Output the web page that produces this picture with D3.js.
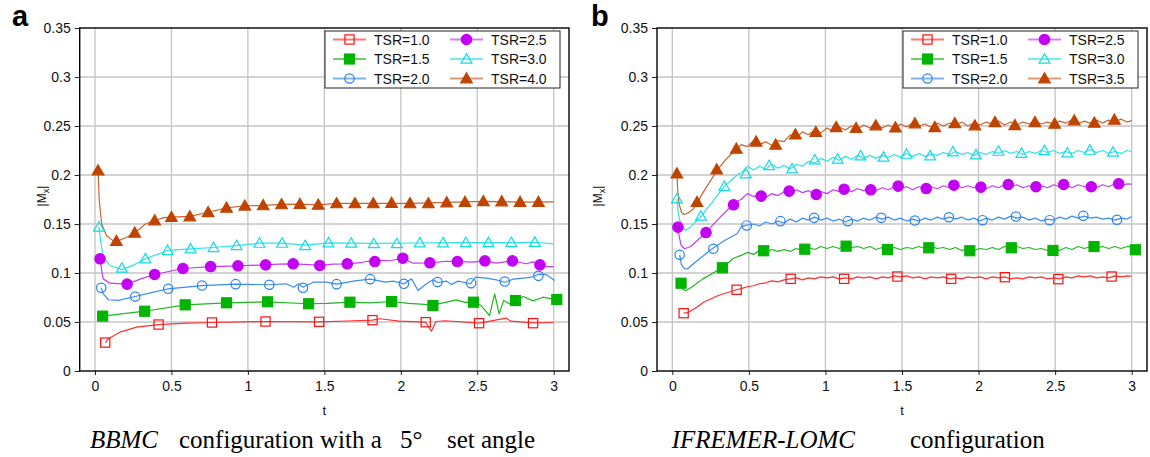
<!DOCTYPE html>
<html><head><meta charset="utf-8">
<script src="https://cdn.jsdelivr.net/npm/d3@7"></script>
<style>
html,body{margin:0;padding:0;background:#fff;}
svg{display:block;}
text{font-family:"Liberation Sans",Arial,sans-serif;}
text.caption{font-family:"Liberation Serif","Times New Roman",serif;}
</style></head>
<body>
<svg id="chart" width="1150" height="457"></svg>
<script>
// ---------------- DATA ----------------
const xTicks = [0, 0.5, 1, 1.5, 2, 2.5, 3];
const xTickLabels = ["0", "0.5", "1", "1.5", "2", "2.5", "3"];
const yTicks = [0, 0.05, 0.1, 0.15, 0.2, 0.25, 0.3, 0.35];
const yTickLabels = ["0", "0.05", "0.1", "0.15", "0.2", "0.25", "0.3", "0.35"];

const legendA = ["TSR=1.0", "TSR=1.5", "TSR=2.0", "TSR=2.5", "TSR=3.0", "TSR=4.0"];
const legendB = ["TSR=1.0", "TSR=1.5", "TSR=2.0", "TSR=2.5", "TSR=3.0", "TSR=3.5"];

// Panel a (BBMC) : markers
const aMk10T = [0.067,0.416,0.765,1.115,1.466,1.815,2.163,2.512,2.865];
const aMk10V = [.029,.0474,.0495,.0505,.0502,.0519,.0498,.0488,.0488];
const aMk15T = [0.05,0.325,0.59,0.86,1.129,1.397,1.667,1.94,2.21,2.475,2.75,3.02];
const aMk15V = [.056,.061,.0675,.0696,.0706,.0686,.0702,.0709,.0668,.0702,.0719,.073];
const aMk20T = [0.041,0.263,0.479,0.70,0.92,1.14,1.36,1.58,1.80,2.02,2.24,2.46,2.68,2.90];
const aMk20V = [.0849,.076,.0839,.0872,.0886,.088,.0849,.0886,.0937,.089,.0908,.0896,.0913,.0971];
const aMk25T = [0.033,0.21,0.39,0.575,0.756,0.935,1.116,1.296,1.47,1.65,1.83,2.013,2.19,2.37,2.55,2.73,2.91];
const aMk25V = [.1145,.0886,.0985,.1046,.1066,.1073,.1083,.1094,.1077,.1094,.1117,.1151,.1104,.1117,.1124,.1124,.1083];
const aMk30T = [0.026,0.176,0.33,0.475,0.625,0.775,0.926,1.076,1.224,1.375,1.527,1.676,1.823,1.974,2.124,2.277,2.425,2.573,2.723,2.876];
const aMk30V = [.1468,.105,.1145,.123,.1247,.126,.128,.1304,.1304,.128,.1308,.1305,.130,.130,.1308,.1308,.131,.131,.131,.1314];
const aMk40T = [0.02,0.14,0.26,0.39,0.50,0.62,0.74,0.86,0.98,1.10,1.22,1.34,1.46,1.58,1.70,1.82,1.94,2.06,2.18,2.30,2.42,2.54,2.66,2.78,2.90];
const aMk40V = [.2046,.1325,.141,.1536,.157,.1577,.162,.1665,.1686,.169,.170,.1703,.1696,.171,.171,.171,.1714,.171,.171,.172,.1724,.1731,.173,.1724,.1724];

// Panel a : lines [t, value]
const aLn10 = [[0.067,.029],[0.087,.0329],[0.163,.0396],[0.272,.0447],[0.416,.0474],[0.6,.0488],[0.765,.0495],[1.115,.0505],[1.466,.0502],[1.65,.051],[1.815,.0519],[1.863,.0533],[1.99,.0508],[2.163,.0498],[2.20,.0406],[2.23,.0505],[2.29,.0513],[2.512,.0488],[2.69,.0539],[2.72,.0508],[2.865,.0492],[3.0,.0495]];
const aLn15 = [[0.05,.056],[0.325,.061],[0.59,.0675],[0.86,.0696],[1.129,.0706],[1.397,.0686],[1.52,.069],[1.667,.0702],[1.80,.0695],[1.94,.0709],[2.05,.069],[2.21,.0675],[2.30,.0702],[2.363,.0726],[2.42,.070],[2.48,.0702],[2.525,.0668],[2.58,.0566],[2.614,.0788],[2.643,.0583],[2.673,.072],[2.71,.0686],[2.745,.071],[2.80,.076],[2.865,.0716],[2.93,.0753],[3.02,.0726]];
const aLn20 = [[0.041,.0849],[0.054,.0788],[0.087,.0727],[0.153,.072],[0.263,.076],[0.37,.080],[0.479,.0839],[0.70,.0872],[0.92,.0886],[1.14,.088],[1.25,.089],[1.30,.0855],[1.33,.089],[1.36,.0855],[1.427,.0906],[1.514,.0906],[1.58,.0886],[1.70,.092],[1.80,.0937],[1.90,.0906],[1.95,.0917],[2.02,.089],[2.07,.094],[2.113,.0821],[2.168,.089],[2.21,.093],[2.244,.0903],[2.30,.0917],[2.33,.0883],[2.375,.0917],[2.455,.089],[2.49,.0957],[2.56,.0947],[2.625,.093],[2.68,.0906],[2.735,.0937],[2.80,.0947],[2.853,.0957],[2.90,.0985],[2.95,.0985],[3.007,.0923]];
const aLn25 = [[0.033,.1145],[0.044,.1026],[0.054,.094],[0.098,.0896],[0.21,.0886],[0.3,.094],[0.39,.0985],[0.575,.1046],[0.756,.1066],[0.935,.1073],[1.116,.1083],[1.2,.109],[1.296,.1094],[1.40,.1085],[1.47,.1077],[1.56,.109],[1.65,.1094],[1.74,.1105],[1.78,.112],[1.83,.1117],[1.863,.1128],[1.93,.1125],[2.013,.1151],[2.08,.110],[2.19,.1104],[2.30,.112],[2.37,.1117],[2.47,.111],[2.55,.1124],[2.625,.110],[2.73,.1124],[2.82,.1094],[2.865,.1114],[2.91,.1083],[2.95,.1066],[3.0,.1066]];
const aLn30 = [[0.026,.1468],[0.037,.133],[0.054,.116],[0.098,.1077],[0.176,.1035],[0.25,.108],[0.33,.1145],[0.475,.123],[0.625,.1247],[0.775,.126],[0.926,.128],[1.076,.1304],[1.224,.1304],[1.375,.1285],[1.527,.1308],[1.8,.1303],[2.1,.1306],[2.4,.131],[2.7,.131],[2.876,.1314],[3.0,.1298]];
const aLn40 = [[0.02,.2046],[0.028,.174],[0.044,.150],[0.076,.138],[0.13,.1315],[0.207,.1365],[0.26,.141],[0.33,.150],[0.39,.1536],[0.45,.1565],[0.50,.157],[0.62,.1577],[0.74,.162],[0.86,.1665],[0.98,.1686],[1.10,.169],[1.22,.170],[1.34,.1703],[1.46,.1696],[1.58,.171],[1.82,.171],[2.06,.171],[2.30,.172],[2.54,.1731],[2.78,.1724],[3.0,.1725]];

// Panel b (IFREMER-LOMC) : markers
const bMk10T = [0.074,0.42,0.773,1.122,1.47,1.821,2.172,2.521,2.869];
const bMk10V = [.059,.0829,.094,.094,.0964,.094,.0957,.0937,.0964];
const bMk15T = [0.057,0.327,0.597,0.865,1.135,1.405,1.675,1.943,2.214,2.486,2.754,3.024];
const bMk15V = [.0896,.1053,.1227,.1243,.1274,.124,.1257,.1227,.1257,.123,.127,.1237];
const bMk20T = [0.048,0.268,0.486,0.706,0.926,1.146,1.364,1.584,1.806,2.026,2.244,2.464,2.684,2.904];
const bMk20V = [.1186,.1247,.1485,.1529,.1563,.1529,.1563,.1535,.1569,.1539,.1576,.1539,.1583,.1543];
const bMk25T = [0.037,0.22,0.40,0.58,0.763,0.94,1.122,1.296,1.475,1.658,1.839,2.015,2.194,2.375,2.556,2.736,2.915];
const bMk25V = [.1468,.1413,.1696,.1784,.1835,.1801,.1855,.1849,.1886,.1862,.1896,.1876,.1903,.188,.1903,.188,.191];
const bMk30T = [0.03,0.187,0.34,0.48,0.632,0.782,0.93,1.08,1.23,1.38,1.53,1.684,1.832,1.983,2.13,2.28,2.43,2.58,2.727,2.878];
const bMk30V = [.1757,.158,.1883,.2012,.2097,.2063,.2155,.2162,.2196,.2182,.2212,.2196,.2237,.2206,.2243,.2222,.225,.2226,.2253,.2233];
const bMk35T = [0.03,0.161,0.29,0.418,0.547,0.675,0.804,0.937,1.07,1.20,1.329,1.457,1.584,1.714,1.845,1.976,2.107,2.237,2.368,2.497,2.625,2.756,2.887];
const bMk35V = [.2015,.1723,.2055,.2267,.234,.2308,.2413,.2437,.2488,.2478,.2505,.2484,.2526,.2488,.2528,.2505,.2539,.2508,.2539,.2522,.2556,.2532,.2563];

// Panel b : early part of each line [t, value]
const bHead10 = [[0.074,.059],[0.1,.0595],[0.15,.064],[0.205,.0702],[0.3,.077],[0.42,.0829]];
const bHead15 = [[0.057,.0896],[0.07,.083],[0.09,.0821],[0.12,.085],[0.2,.094],[0.327,.1053],[0.40,.115]];
const bHead20 = [[0.048,.1186],[0.06,.108],[0.08,.1045],[0.1,.1043],[0.15,.111],[0.26,.1247],[0.35,.134],[0.423,.140]];
const bHead25 = [[0.037,.1468],[0.045,.137],[0.058,.128],[0.08,.1247],[0.12,.127],[0.216,.1406],[0.30,.155],[0.39,.1689],[0.433,.174]];
const bHead30 = [[0.03,.1757],[0.04,.160],[0.055,.150],[0.085,.1434],[0.12,.147],[0.183,.157],[0.26,.172],[0.335,.1876],[0.40,.197],[0.433,.2012]];
const bHead35 = [[0.03,.2015],[0.035,.185],[0.045,.170],[0.06,.162],[0.075,.1597],[0.1,.161],[0.139,.1655],[0.2,.182],[0.292,.2046],[0.35,.216],[0.41,.225]];

// Panel b : oscillating part of each line, sampled at these times
const bWaveT = [0.45,0.49,0.53,0.57,0.61,0.65,0.69,0.73,0.77,0.81,0.85,0.89,0.93,0.97,1.01,1.05,1.09,1.13,1.17,1.21,1.25,1.29,1.33,1.37,1.41,1.45,1.49,1.53,1.57,1.61,1.65,1.69,1.73,1.77,1.81,1.85,1.89,1.93,1.97,2.01,2.05,2.09,2.13,2.17,2.21,2.25,2.29,2.33,2.37,2.41,2.45,2.49,2.53,2.57,2.61,2.65,2.69,2.73,2.77,2.81,2.85,2.89,2.93,2.97,3.0];
const bWave10 = [.084,.086,.087,.089,.090,.092,.091,.093,.094,.095,.093,.095,.094,.096,.095,.096,.094,.095,.094,.096,.095,.096,.094,.096,.095,.097,.096,.097,.095,.096,.094,.096,.095,.096,.094,.095,.094,.096,.095,.096,.094,.096,.095,.096,.094,.095,.094,.096,.095,.096,.094,.095,.094,.096,.095,.097,.096,.097,.095,.096,.095,.097,.096,.097,.0967];
const bWave15 = [.118,.121,.119,.123,.121,.124,.122,.124,.122,.125,.123,.126,.124,.127,.125,.127,.125,.128,.126,.127,.125,.127,.124,.126,.124,.126,.124,.126,.125,.127,.125,.127,.125,.126,.124,.126,.123,.124,.123,.125,.124,.126,.124,.127,.125,.127,.125,.126,.124,.125,.123,.124,.123,.126,.124,.127,.125,.127,.126,.127,.125,.127,.125,.127,.127];
const bWave20 = [.147,.149,.150,.148,.152,.150,.153,.151,.155,.152,.156,.154,.157,.154,.156,.153,.155,.152,.155,.153,.156,.154,.157,.155,.157,.154,.156,.153,.155,.153,.156,.154,.157,.155,.157,.155,.157,.154,.156,.153,.156,.154,.157,.155,.158,.156,.157,.154,.156,.153,.155,.154,.157,.155,.158,.156,.158,.156,.157,.155,.156,.154,.156,.155,.1576];
const bWave25 = [.175,.181,.178,.180,.177,.181,.179,.183,.182,.185,.182,.184,.180,.183,.181,.185,.183,.186,.183,.186,.184,.186,.184,.187,.185,.188,.186,.188,.185,.188,.186,.188,.186,.189,.187,.190,.187,.189,.187,.188,.186,.189,.187,.190,.188,.190,.187,.189,.187,.189,.187,.190,.188,.190,.187,.190,.188,.189,.187,.190,.188,.191,.189,.191,.1906];
const bWave30 = [.202,.209,.205,.209,.206,.211,.207,.210,.206,.211,.209,.214,.212,.217,.214,.218,.215,.219,.216,.220,.217,.220,.217,.220,.218,.221,.218,.222,.219,.222,.219,.221,.220,.223,.221,.224,.221,.223,.220,.223,.221,.224,.222,.225,.222,.224,.221,.224,.222,.225,.223,.225,.222,.224,.222,.225,.223,.226,.223,.225,.222,.224,.222,.225,.2237];
const bWave35 = [.231,.229,.235,.231,.234,.230,.235,.234,.241,.238,.244,.241,.246,.243,.248,.245,.249,.246,.250,.247,.251,.248,.251,.248,.251,.248,.252,.249,.253,.250,.252,.249,.253,.250,.253,.251,.254,.250,.253,.251,.254,.252,.255,.251,.254,.251,.254,.252,.255,.252,.254,.252,.255,.253,.256,.252,.255,.253,.256,.253,.256,.254,.257,.254,.2555];

// ---------------- STYLE ----------------
const styles = [
  {mk:"#ff1010", ln:"#ff3030", shape:"square",   fill:false},
  {mk:"#00b400", ln:"#22b522", shape:"square",   fill:true },
  {mk:"#2a80f0", ln:"#3a8cf8", shape:"circle",   fill:false},
  {mk:"#c400f4", ln:"#c03cf8", shape:"circle",   fill:true },
  {mk:"#10dce6", ln:"#30e2e6", shape:"triangle", fill:false},
  {mk:"#c04400", ln:"#c86430", shape:"triangle", fill:true }
];

const zip = (T, V) => T.map((t, i) => [t, V[i]]);

const panels = [
  { x0:79.7, x1:569, letter:"a", letterX:12, ylabX:46, legend:legendA,
    legendBox:{x:325, y:31, w:235, h:57, c1:333, c2:450},
    lines:[aLn10,aLn15,aLn20,aLn25,aLn30,aLn40],
    markers:[zip(aMk10T,aMk10V),zip(aMk15T,aMk15V),zip(aMk20T,aMk20V),zip(aMk25T,aMk25V),zip(aMk30T,aMk30V),zip(aMk40T,aMk40V)],
    caption:[{t:"BBMC",it:true,x:158,anchor:"end"},{t:"configuration with a",it:false,x:179,anchor:"start"},
             {t:"5°",it:false,x:400,anchor:"start"},{t:"set angle",it:false,x:447,anchor:"start"}] },
  { x0:657, x1:1147, letter:"b", letterX:591, ylabX:602, legend:legendB,
    legendBox:{x:903, y:31, w:235, h:57, c1:911, c2:1028},
    lines:[bHead10.concat(zip(bWaveT,bWave10)), bHead15.concat(zip(bWaveT,bWave15)), bHead20.concat(zip(bWaveT,bWave20)),
           bHead25.concat(zip(bWaveT,bWave25)), bHead30.concat(zip(bWaveT,bWave30)), bHead35.concat(zip(bWaveT,bWave35))],
    markers:[zip(bMk10T,bMk10V),zip(bMk15T,bMk15V),zip(bMk20T,bMk20V),zip(bMk25T,bMk25V),zip(bMk30T,bMk30V),zip(bMk35T,bMk35V)],
    caption:[{t:"IFREMER-LOMC",it:true,x:855,anchor:"end"},{t:"configuration",it:false,x:910,anchor:"start"}] }
];

const svg = d3.select("#chart");
const yTop = 28, yBot = 371;

function drawMarker(g, shape, fill, color, cx, cy) {
  if (shape === "square") {
    const h = fill ? 5 : 4.6;
    g.append("rect").attr("x", cx - h).attr("y", cy - h).attr("width", 2*h).attr("height", 2*h)
      .attr("fill", fill ? color : "none").attr("stroke", color).attr("stroke-width", 1.2);
  } else if (shape === "circle") {
    const r = fill ? 5.2 : 4.7;
    g.append("circle").attr("cx", cx).attr("cy", cy).attr("r", r)
      .attr("fill", fill ? color : "none").attr("stroke", color).attr("stroke-width", 1.2);
  } else {
    const a = fill ? 5.8 : 5.4;
    const pts = [[cx, cy - a], [cx + a, cy + a*0.75], [cx - a, cy + a*0.75]];
    g.append("polygon").attr("points", pts.map(p => p.join(",")).join(" "))
      .attr("fill", fill ? color : "none").attr("stroke", color).attr("stroke-width", 1.2);
  }
}

panels.forEach(p => {
  const x = d3.scaleLinear().domain([-0.1, 3.1]).range([p.x0, p.x1]);
  const y = d3.scaleLinear().domain([0, 0.35]).range([yBot, yTop]);
  const g = svg.append("g");

  // grid
  g.append("g").selectAll("line").data(xTicks).join("line")
    .attr("x1", d => x(d)).attr("x2", d => x(d)).attr("y1", yTop).attr("y2", yBot)
    .attr("stroke", "#c4c4c4").attr("stroke-width", 1.3);
  g.append("g").selectAll("line").data(yTicks.slice(1, -1)).join("line")
    .attr("x1", p.x0).attr("x2", p.x1).attr("y1", d => y(d)).attr("y2", d => y(d))
    .attr("stroke", "#c4c4c4").attr("stroke-width", 1.3);

  // axes
  const xAxis = d3.axisBottom(x).tickValues(xTicks).tickFormat((d, i) => xTickLabels[i]).tickSize(4).tickPadding(6);
  const gx = g.append("g").attr("transform", `translate(0,${yBot})`).call(xAxis);
  const yAxis = d3.axisLeft(y).tickValues(yTicks).tickFormat((d, i) => yTickLabels[i]).tickSize(5).tickPadding(4);
  const gy = g.append("g").attr("transform", `translate(${p.x0},0)`).call(yAxis);
  [gx, gy].forEach(a => {
    a.select(".domain").remove();
    a.selectAll("text").attr("font-size", 14).attr("fill", "#111").attr("font-family", null);
    a.selectAll("line").attr("stroke", "#222");
  });

  // frame
  g.append("rect").attr("x", p.x0).attr("y", yTop).attr("width", p.x1 - p.x0).attr("height", yBot - yTop)
    .attr("fill", "none").attr("stroke", "#000").attr("stroke-width", 1.4);

  // lines
  const line = d3.line().x(d => x(d[0])).y(d => y(d[1]));
  p.lines.forEach((ln, i) => {
    g.append("path").datum(ln).attr("d", line).attr("fill", "none")
      .attr("stroke", styles[i].ln).attr("stroke-width", 1.2).attr("stroke-linejoin", "round");
  });
  // markers
  p.markers.forEach((mk, i) => {
    const st = styles[i];
    const mg = g.append("g");
    mk.forEach(d => drawMarker(mg, st.shape, st.fill, st.mk, x(d[0]), y(d[1])));
  });

  // legend
  const lb = p.legendBox;
  g.append("rect").attr("x", lb.x).attr("y", lb.y).attr("width", lb.w).attr("height", lb.h)
    .attr("fill", "#fff").attr("stroke", "#222").attr("stroke-width", 1);
  const rowY = [39.5, 59, 78.5];
  p.legend.forEach((lab, i) => {
    const col = i < 3 ? 0 : 1, row = i % 3;
    const lx = col === 0 ? lb.c1 : lb.c2;
    const ly = rowY[row];
    g.append("line").attr("x1", lx).attr("x2", lx + 33).attr("y1", ly).attr("y2", ly)
      .attr("stroke", styles[i].ln).attr("stroke-width", 2).attr("opacity", 0.65);
    drawMarker(g, styles[i].shape, styles[i].fill, styles[i].mk, lx + 16.5, ly);
    g.append("text").attr("x", lx + 41).attr("y", ly + 5).attr("font-size", 14).attr("fill", "#111").text(lab);
  });

  // axis labels
  g.append("text").attr("x", (x(0) + x(3)) / 2).attr("y", 415).attr("text-anchor", "middle")
    .attr("font-size", 13).attr("fill", "#111").text("t");
  const yl = g.append("text").attr("transform", `translate(${p.ylabX},196) rotate(-90)`)
    .attr("text-anchor", "middle").attr("font-size", 12).attr("fill", "#111");
  yl.append("tspan").text("|M");
  yl.append("tspan").attr("font-size", 9).attr("dy", 3).text("x");
  yl.append("tspan").attr("dy", -3).text("|");

  // panel letter
  g.append("text").attr("x", p.letterX).attr("y", 26).attr("font-size", 29).attr("font-weight", "bold")
    .attr("fill", "#000").text(p.letter);

  // caption
  p.caption.forEach(c => {
    g.append("text").attr("class", "caption").attr("x", c.x).attr("y", 448).attr("font-size", 25)
      .attr("text-anchor", c.anchor).attr("font-style", c.it ? "italic" : "normal")
      .attr("fill", "#000").text(c.t);
  });
});
</script>
</body></html>
